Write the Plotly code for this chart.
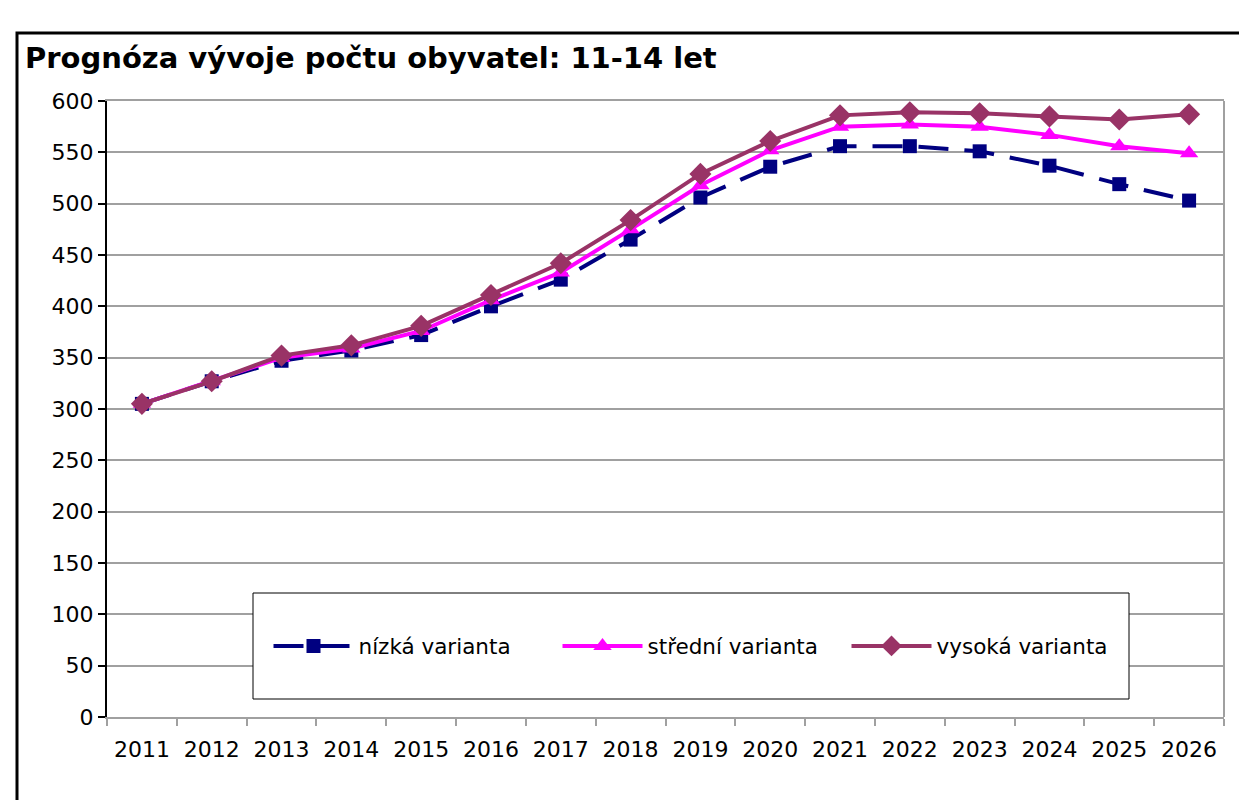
import plotly.graph_objects as go

years = [str(y) for y in range(2011, 2027)]
nizka = [305, 327, 347, 357, 372, 400, 426, 465, 506, 536, 556, 556, 551, 537, 519, 503]
stredni = [305, 327, 350, 359, 376, 406, 433, 475, 518, 552, 575, 577, 575, 567, 556, 549]
vysoka = [305, 327, 352, 362, 381, 411, 442, 484, 529, 561, 586, 589, 588, 585, 582, 587]

FONT = "Verdana, DejaVu Sans, sans-serif"
GRID = "#a0a0a0"

# page has an 8px body margin, so the figure is drawn 8px smaller and coordinates shifted
OFF = 8
W, H = 1247 - OFF, 800 - OFF
# plot area in figure pixels (left, right, top, bottom)
PL, PR, PT, PB = 107 - OFF, 1224 - OFF, 101 - OFF, 717 - OFF
PW, PH = PR - PL, PB - PT


def px(x):
    return (x - OFF - PL) / PW


def py(y):
    return (PB - (y - OFF)) / PH


fig = go.Figure()
fig.add_trace(go.Scatter(
    x=years, y=nizka, name="nízká varianta", mode="lines+markers",
    line=dict(color="#000080", width=4, dash="30px,16px"),
    marker=dict(symbol="square", size=14, color="#000080"),
))
fig.add_trace(go.Scatter(
    x=years, y=stredni, name="střední varianta", mode="lines+markers",
    line=dict(color="#ff00ff", width=4),
    marker=dict(symbol="triangle-up", size=16, color="#ff00ff"),
))
fig.add_trace(go.Scatter(
    x=years, y=vysoka, name="vysoká varianta", mode="lines+markers",
    line=dict(color="#993366", width=4),
    marker=dict(symbol="diamond", size=17, color="#993366"),
))

fig.update_layout(
    width=W, height=H, autosize=False,
    margin=dict(l=PL, r=W - PR, t=PT, b=H - PB, autoexpand=False),
    paper_bgcolor="white", plot_bgcolor="white",
    font=dict(family=FONT, size=22, color="black"),
    title=dict(
        text="<b>Prognóza vývoje počtu obyvatel: 11-14 let</b>",
        x=(25 - OFF) / W, xanchor="left", xref="container",
        y=1 - (58 - OFF) / H, yanchor="middle", yref="container",
        font=dict(family=FONT, size=29, color="black"),
    ),
    xaxis=dict(
        type="category", showgrid=False, showline=True, linecolor=GRID, linewidth=2,
        ticks="outside", tickson="boundaries", ticklen=7, tickcolor=GRID, tickwidth=2,
        ticklabelstandoff=12,
        mirror=True, range=[-0.5, 15.5], automargin=False,
    ),
    yaxis=dict(
        range=[0, 600], dtick=50, showgrid=True, gridcolor=GRID, gridwidth=2,
        showline=True, linecolor="black", linewidth=2, zeroline=False,
        ticks="outside", ticklen=7, tickcolor="black", tickwidth=2, automargin=False,
    ),
    legend=dict(
        orientation="h",
        x=px((253 + 1129) / 2 + 11), xanchor="center",
        y=py(646), yanchor="middle",
        bgcolor="rgba(0,0,0,0)", borderwidth=0,
        font=dict(family=FONT, size=21.5), itemwidth=80,
        entrywidth=194,
    ),
    showlegend=True,
    shapes=[
        # right border of plot area
        dict(type="line", xref="paper", yref="paper", x0=1, x1=1, y0=0, y1=1,
             line=dict(color=GRID, width=2), layer="above"),
        # legend box
        dict(type="rect", xref="paper", yref="paper",
             x0=px(253), x1=px(1129), y0=py(699), y1=py(593),
             fillcolor="white", line=dict(color="black", width=1), layer="above"),
        # outer chart frame
        dict(type="rect", xref="paper", yref="paper",
             x0=px(17), x1=1.2, y0=-0.3, y1=py(33),
             line=dict(color="black", width=3), layer="above"),
    ],
)

fig.write_html("out.html")
